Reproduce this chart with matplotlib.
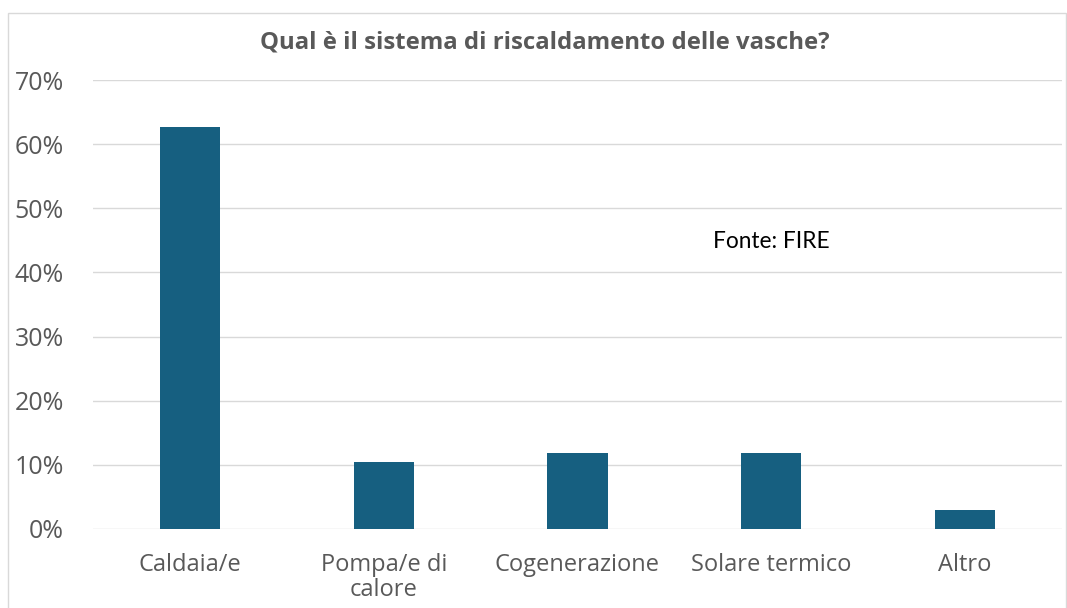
import matplotlib
matplotlib.use("Agg")
import matplotlib.pyplot as plt
from matplotlib.ticker import FuncFormatter
from matplotlib.patches import Rectangle

categories = ["Caldaia/e", "Pompa/e di\ncalore", "Cogenerazione", "Solare termico", "Altro"]
values = [0.627, 0.104, 0.119, 0.119, 0.030]
yticks = [0, 0.1, 0.2, 0.3, 0.4, 0.5, 0.6, 0.7]

fig = plt.figure(figsize=(10.67, 6.08), dpi=100)
fig.patch.set_facecolor("white")
fig.add_artist(Rectangle((8/1067, -0.01), 1058/1067, 1 - 13/608 + 0.01, transform=fig.transFigure,
                         fill=False, edgecolor="#d9d9d9", linewidth=1.0))

ax = fig.add_axes([93/1067, 1 - 529/608, (1062 - 93)/1067, (529 - 80)/608])
x = list(range(len(categories)))
ax.bar(x, values, width=0.31, color="#165F80", zorder=3)
ax.set_xlim(-0.5, len(categories) - 0.5)
ax.set_ylim(0, 0.7)
ax.set_yticks(yticks)
ax.yaxis.set_major_formatter(FuncFormatter(lambda v, p: f"{v*100:.0f}%"))
ax.set_xticks(x)
ax.set_xticklabels(categories, family="Open Sans", fontsize=17, color="#595959", linespacing=1.05)
for lab in ax.get_yticklabels():
    lab.set_family("Open Sans")
    lab.set_fontsize(18)
    lab.set_color("#595959")
ax.tick_params(axis="both", length=0)
ax.tick_params(axis="y", pad=21)
ax.tick_params(axis="x", pad=17)
ax.grid(axis="y", color="#d9d9d9", linewidth=1.0, zorder=0)
for s in ax.spines.values():
    s.set_visible(False)

fig.text(545/1067, 1 - 42/608, "Qual è il sistema di riscaldamento delle vasche?", ha="center", va="center",
         family="Open Sans", fontweight="bold", fontsize=17.2, color="#595959")
fig.text(713/1067, 1 - 242/608, "Fonte: FIRE", ha="left", va="center",
         family="Lato", fontsize=16.3, color="black")

fig.savefig("out.png", dpi=100)
